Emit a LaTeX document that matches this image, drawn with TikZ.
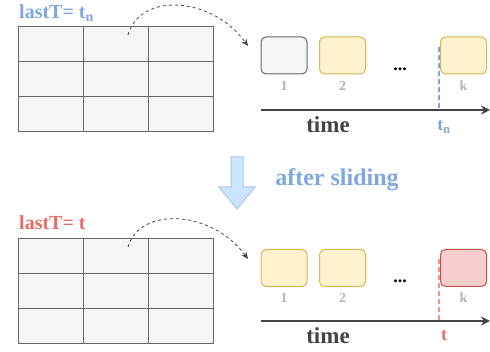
\documentclass[tikz,border=0pt]{standalone}
\usepackage{fontspec}
\setmainfont{Liberation Serif}
\usepackage{xcolor}
\usepackage{tikz}
\usetikzlibrary{calc}
\usetikzlibrary{arrows.meta}
\usetikzlibrary{positioning}
\definecolor{cellfill}{HTML}{F5F5F5}
\definecolor{cellline}{HTML}{666666}
\definecolor{yelfill}{HTML}{FFF2CC}
\definecolor{yelline}{HTML}{D6B656}
\definecolor{redfill}{HTML}{F8CECC}
\definecolor{redline}{HTML}{B85450}
\definecolor{bluetxt}{HTML}{7EA6E0}
\definecolor{redtxt}{HTML}{EA6B66}
\definecolor{axisgray}{HTML}{444444}
\definecolor{numgray}{HTML}{B3B3B3}
\definecolor{arrowfill}{HTML}{CCE5FF}
\definecolor{arrowline}{HTML}{A9C4EB}
\tikzstyle{cellnode}=[draw=cellline, fill=cellfill, line width=1pt, shape=rectangle, minimum width=65pt, minimum height=35pt, inner sep=0pt]
\tikzstyle{winnode}=[line width=1pt, shape=rectangle, rounded corners=5pt, minimum width=46pt, minimum height=37pt, inner sep=0pt]
\tikzstyle{numnode}=[numgray, font=\fontsize{14}{14}\selectfont\bfseries, inner sep=0pt]
\tikzstyle{textnode}=[font=\fontsize{20}{20}\selectfont\bfseries, inner sep=0pt]

\begin{document}
\begin{tikzpicture}[x=1pt, y=-1pt]
\useasboundingbox (0,0) rectangle (490,352);

% before sliding
\node [textnode, bluetxt, anchor=west] (lastTn) at (19,13) {lastT= t\textsubscript{n}};
\node [cellnode] (topA1) at (50.5,44.5) {};
\node [cellnode] (topA2) at (115.5,44.5) {};
\node [cellnode] (topA3) at (180.5,44.5) {};
\node [cellnode] (topB1) at (50.5,79.5) {};
\node [cellnode] (topB2) at (115.5,79.5) {};
\node [cellnode] (topB3) at (180.5,79.5) {};
\node [cellnode] (topC1) at (50.5,114.5) {};
\node [cellnode] (topC2) at (115.5,114.5) {};
\node [cellnode] (topC3) at (180.5,114.5) {};

\node [winnode, draw=cellline, fill=cellfill] (topwin1) at (284,55.5) {};
\node [winnode, draw=yelline, fill=yelfill] (topwin2) at (342.5,55.5) {};
\node [winnode, draw=yelline, fill=yelfill] (topwink) at (463.5,55.5) {};
\node [numnode] (topnum1) at (284,86) {1};
\node [numnode] (topnum2) at (342.5,86) {2};
\node [numnode] (topnumk) at (463.5,86) {k};
\node [font=\fontsize{18}{18}\selectfont\bfseries, inner sep=0pt, anchor=base] (topdots) at (400,71) {...};
\node [textnode, axisgray, font=\fontsize{23}{23}\selectfont\bfseries] (toptime) at (328,125) {time};
\node [bluetxt, font=\fontsize{18}{18}\selectfont\bfseries, inner sep=0pt] (toptn) at (444,127) {t\textsubscript{n}};

\coordinate (topaxisL) at (261,110);
\coordinate (topaxisR) at (490,110);
\coordinate (topmarkU) at (439,47);
\coordinate (topmarkD) at (439,110);
\coordinate (topcurveS) at (128,35);
\coordinate (topcurveE) at (248,46);

\draw[bluetxt, line width=1.5pt, dash pattern=on 5pt off 3pt] (topmarkU) -- (topmarkD);
\draw[-{Stealth[length=9pt, width=9pt]}, line width=2pt, color=axisgray] (topaxisL) -- (topaxisR);
\draw[-{Stealth[length=7pt, width=6pt]}, line width=0.8pt, color=axisgray, dash pattern=on 3pt off 3pt] (topcurveS) .. controls (140,-8) and (212,-4) .. (topcurveE);

% sliding step
\draw[draw=arrowline, fill=arrowfill, line width=1pt] (231,157) -- (243,157) -- (243,187) -- (255,187) -- (237,209) -- (219,187) -- (231,187) -- cycle;
\node [textnode, bluetxt, font=\fontsize{24}{24}\selectfont\bfseries] (sliding) at (337,180) {after sliding};

% after sliding
\node [textnode, redtxt, anchor=west] (lastT) at (19,223) {lastT= t};
\node [cellnode] (botA1) at (50.5,256.5) {};
\node [cellnode] (botA2) at (115.5,256.5) {};
\node [cellnode] (botA3) at (180.5,256.5) {};
\node [cellnode] (botB1) at (50.5,291.5) {};
\node [cellnode] (botB2) at (115.5,291.5) {};
\node [cellnode] (botB3) at (180.5,291.5) {};
\node [cellnode] (botC1) at (50.5,326.5) {};
\node [cellnode] (botC2) at (115.5,326.5) {};
\node [cellnode] (botC3) at (180.5,326.5) {};

\node [winnode, draw=yelline, fill=yelfill] (botwin1) at (284,268) {};
\node [winnode, draw=yelline, fill=yelfill] (botwin2) at (342.5,268) {};
\node [winnode, draw=redline, fill=redfill] (botwink) at (463.5,268) {};
\node [numnode] (botnum1) at (284,298) {1};
\node [numnode] (botnum2) at (342.5,298) {2};
\node [numnode] (botnumk) at (463.5,298) {k};
\node [font=\fontsize{18}{18}\selectfont\bfseries, inner sep=0pt, anchor=base] (botdots) at (400,283) {...};
\node [textnode, axisgray, font=\fontsize{23}{23}\selectfont\bfseries] (bottime) at (328,336) {time};
\node [redtxt, font=\fontsize{18}{18}\selectfont\bfseries, inner sep=0pt] (bott) at (444,336) {t};

\coordinate (botaxisL) at (261,321);
\coordinate (botaxisR) at (490,321);
\coordinate (botmarkU) at (439,259);
\coordinate (botmarkD) at (439,321);
\coordinate (botcurveS) at (128,247);
\coordinate (botcurveE) at (248,259);

\draw[redtxt!70, line width=1.5pt, dash pattern=on 5pt off 3pt] (botmarkU) -- (botmarkD);
\draw[-{Stealth[length=9pt, width=9pt]}, line width=2pt, color=axisgray] (botaxisL) -- (botaxisR);
\draw[-{Stealth[length=7pt, width=6pt]}, line width=0.8pt, color=axisgray, dash pattern=on 3pt off 3pt] (botcurveS) .. controls (140,206) and (212,210) .. (botcurveE);
\end{tikzpicture}
\end{document}
